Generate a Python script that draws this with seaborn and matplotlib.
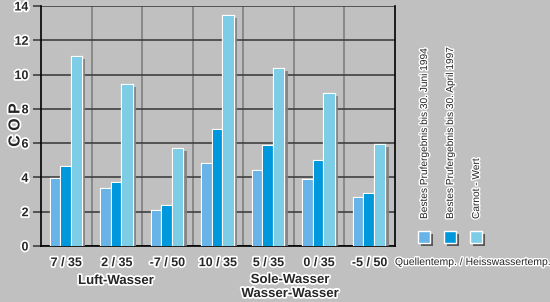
import matplotlib
matplotlib.use("Agg")
import matplotlib.pyplot as plt
import matplotlib.patheffects as pe
from matplotlib.patches import Rectangle
import seaborn as sns
import pandas as pd
import numpy as np

categories = ["7 / 35", "2 / 35", "-7 / 50", "10 / 35", "5 / 35", "0 / 35", "-5 / 50"]
series_names = ["Bestes Prufergebnis bis 30. Juni 1994",
                "Bestes Prufergebnis bis 30. April 1997",
                "Carnot - Wert"]
best_1994 = [3.9, 3.3, 2.05, 4.8, 4.35, 3.85, 2.8]
best_1997 = [4.6, 3.7, 2.35, 6.75, 5.85, 4.95, 3.05]
carnot = [11.05, 9.4, 5.65, 13.4, 10.35, 8.85, 5.9]
colors = ["#68b4e8", "#0098dc", "#7ecde6"]
yticks = [0, 2, 4, 6, 8, 10, 12, 14]

rows = []
for name, vals in zip(series_names, [best_1994, best_1997, carnot]):
    for c, v in zip(categories, vals):
        rows.append({"cat": c, "series": name, "COP": v})
df = pd.DataFrame(rows)

sns.set_theme(style="white")
plt.rcParams["font.family"] = ["Liberation Sans", "DejaVu Sans"]

fig = plt.figure(figsize=(5.5, 3.02), dpi=100, facecolor="#c0c0c0")
ax = fig.add_axes([41/550, 56/302, 354/550, 240/302])
ax.set_facecolor("#c0c0c0")

sns.barplot(data=df, x="cat", y="COP", hue="series", palette=colors,
            order=categories, hue_order=series_names, width=0.62,
            ax=ax, legend=False, saturation=1, zorder=3)

shadow = [pe.SimplePatchShadow(offset=(2.5, -1.5), shadow_rgbFace="#808080", alpha=0.9),
          pe.Stroke(linewidth=1.6, foreground="white"), pe.Normal()]
for p in ax.patches:
    p.set_edgecolor("none")
    p.set_path_effects(shadow)

ax.set_ylim(0, 14)
ax.set_xlim(-0.5, len(categories) - 0.5)
ax.set_yticks(yticks)
ax.set_xticks(range(len(categories)))
ax.set_xticks(np.arange(0.5, len(categories) - 0.5, 1), minor=True)
ax.yaxis.grid(True, color="#404040", linewidth=1.2, zorder=0)
ax.xaxis.grid(True, which="minor", color="#808080", linewidth=1.2, zorder=0)
ax.set_axisbelow(True)
for s in ["left", "bottom", "right", "top"]:
    ax.spines[s].set_color("black")
    ax.spines[s].set_linewidth(1.2)
ax.spines["top"].set_visible(False)
ax.tick_params(axis="y", which="major", length=6, width=1.2, color="#404040", left=True, pad=3)
ax.tick_params(axis="x", which="both", length=0, pad=8)

halo = [pe.withStroke(linewidth=2.5, foreground="white")]
ax.set_yticklabels([str(t) for t in yticks], fontsize=9, fontweight="bold",
                   path_effects=halo)
ax.set_xticklabels(categories, fontsize=9, fontweight="bold", path_effects=halo)
ax.set_xlabel("")
ax.set_ylabel("")

fig.text(15/550, 1 - 125/302, "C O P", rotation=90, ha="center", va="center",
         fontsize=11.5, fontweight="bold", path_effects=halo)
fig.text(116/550, 1 - 281/302, "Luft-Wasser", ha="center", va="center",
         fontsize=9.5, fontweight="bold", path_effects=halo)
fig.text(290/550, 1 - 280/302, "Sole-Wasser", ha="center", va="center",
         fontsize=9.5, fontweight="bold", path_effects=halo)
fig.text(290/550, 1 - 294/302, "Wasser-Wasser", ha="center", va="center",
         fontsize=9.5, fontweight="bold", path_effects=halo)

# legend
halo2 = [pe.withStroke(linewidth=2, foreground="white")]
for i, (name, col) in enumerate(zip(series_names, colors)):
    x = 424 + i * 26
    fig.text(x/550, 1 - 219/302, name, rotation=90, ha="center", va="bottom",
             fontsize=7.3, path_effects=halo2)
    r = Rectangle(((x - 6)/550, 1 - 243/302), 12/550, 12/302, transform=fig.transFigure,
                  facecolor=col, edgecolor="white", linewidth=1,
                  path_effects=[pe.SimplePatchShadow(offset=(2, -2), shadow_rgbFace="#404040", alpha=0.8), pe.Normal()])
    fig.patches.append(r)
fig.text(473/550, 1 - 262/302, "Quellentemp. / Heisswassertemp.", ha="center", va="center",
         fontsize=7.5, path_effects=halo2)

fig.savefig("out.png", dpi=100, facecolor=fig.get_facecolor())
